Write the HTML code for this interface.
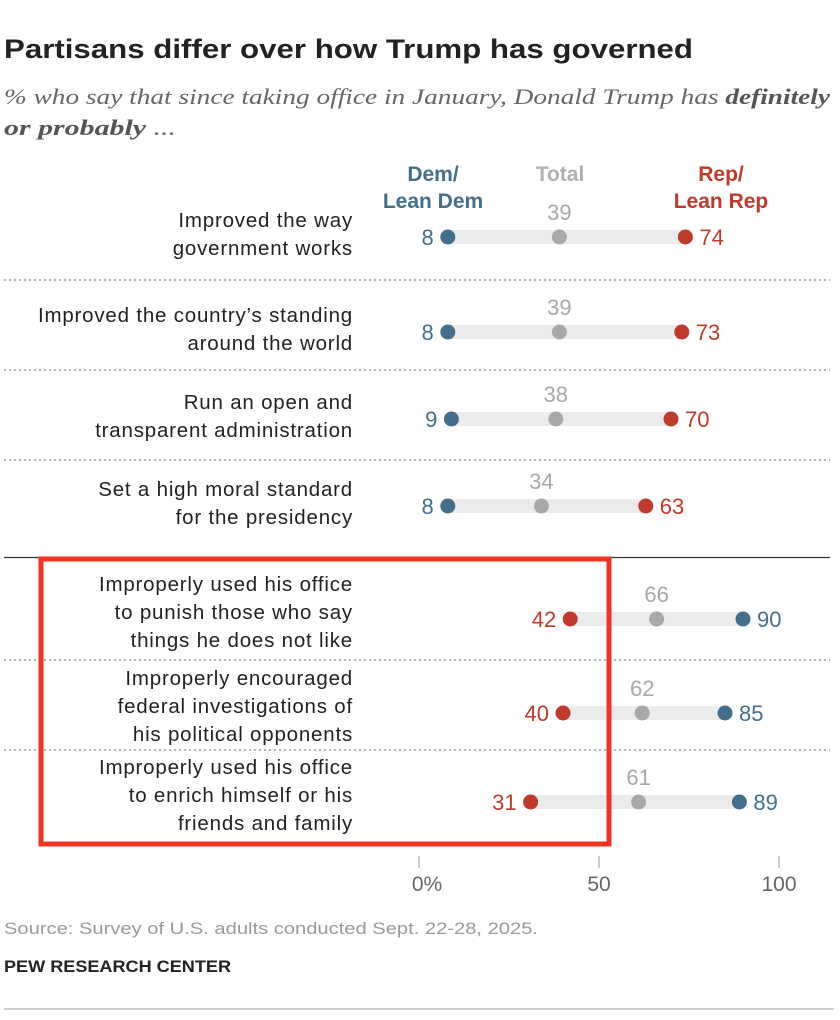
<!DOCTYPE html>
<html><head><meta charset="utf-8">
<style>
body{margin:0;background:#fff;width:840px;height:1020px;overflow:hidden;font-family:"Liberation Sans",sans-serif;}
svg{display:block}
</style></head>
<body>
<svg id="chart" width="840" height="1020" xmlns="http://www.w3.org/2000/svg" font-family="Liberation Sans, sans-serif">
<text x="4" y="58" font-size="27" font-weight="bold" fill="#222" textLength="689" lengthAdjust="spacingAndGlyphs">Partisans differ over how Trump has governed</text>
<text x="4" y="104" font-size="22" font-style="italic" fill="#666" font-family="Liberation Serif, serif" textLength="826" lengthAdjust="spacingAndGlyphs">% who say that since taking office in January, Donald Trump has <tspan font-weight="bold" fill="#555">definitely</tspan></text>
<text x="4" y="135" font-size="22" font-style="italic" fill="#666" font-family="Liberation Serif, serif" textLength="172" lengthAdjust="spacingAndGlyphs"><tspan font-weight="bold" fill="#555">or probably</tspan> ...</text>
<text x="433" y="181" font-size="21" font-weight="bold" fill="#436f8c" text-anchor="middle">Dem/<tspan x="433" dy="27">Lean Dem</tspan></text>
<text x="560" y="181" font-size="21" font-weight="bold" fill="#b0b0b0" text-anchor="middle">Total</text>
<text x="721" y="181" font-size="21" font-weight="bold" fill="#bf3a2b" text-anchor="middle">Rep/<tspan x="721" dy="27">Lean Rep</tspan></text>
<g id="rows"></g>
<line x1="4" x2="830" y1="557.5" y2="557.5" stroke="#333" stroke-width="1.2"/>
<rect x="41" y="559" width="568" height="285" fill="none" stroke="#f0341f" stroke-width="5"/>
<g id="axis"></g>
<text x="4" y="934" font-size="17" fill="#999" textLength="534" lengthAdjust="spacingAndGlyphs">Source: Survey of U.S. adults conducted Sept. 22-28, 2025.</text>
<text x="4" y="972" font-size="17" font-weight="bold" fill="#222" textLength="227" lengthAdjust="spacingAndGlyphs">PEW RESEARCH CENTER</text>
<line x1="4" x2="834" y1="1009" y2="1009" stroke="#999" stroke-width="1"/>
</svg>
<script>
const labels=[["Improved the way","government works"],["Improved the country’s standing","around the world"],["Run an open and","transparent administration"],["Set a high moral standard","for the presidency"],["Improperly used his office","to punish those who say","things he does not like"],["Improperly encouraged","federal investigations of","his political opponents"],["Improperly used his office","to enrich himself or his","friends and family"]];
const demVals=[8,8,9,8,90,85,89];
const totalVals=[39,39,38,34,66,62,61];
const repVals=[74,73,70,63,42,40,31];
const ticks=[0,50,100];
const tickLabels=["0%","50","100"];

const NS="http://www.w3.org/2000/svg";
const rowY=[237,332,419,506,619,713,802];
const sepY=[280,370,460,660,750];
const x=v=>419+v*3.6;
function mk(tag,attrs,parent,txt){const e=document.createElementNS(NS,tag);for(const k in attrs)e.setAttribute(k,attrs[k]);if(txt!==undefined)e.textContent=txt;parent.appendChild(e);return e;}
const rows=document.getElementById('rows');
const DEM="#436f8c",REP="#bf3a2b",TOT="#a8a8a8";
sepY.forEach(y=>{const l=mk('line',{x1:4,x2:830,y1:y,y2:y,stroke:'#888','stroke-width':1.3,'stroke-dasharray':'2,3'},rows);

});
labels.forEach((lab,i)=>{
 const y=rowY[i];
 const n=lab.length;
 const t=mk('text',{x:353,'font-size':20.5,fill:'#222','text-anchor':'end','letter-spacing':'0.8'},rows);
 
 
 lab.forEach((s,j)=>{mk('tspan',{x:353,y:(n===2?y-10:y-28)+j*28},t,s);});
 const vals=[demVals[i],totalVals[i],repVals[i]];
 const lo=Math.min(...vals),hi=Math.max(...vals);
 const bar=mk('rect',{x:x(lo),y:y-7,width:x(hi)-x(lo),height:14,fill:'#ebebeb'},rows);
 
 
 const series=[[demVals[i],DEM,'dem'],[repVals[i],REP,'rep']];
 series.forEach(([v,c,nm])=>{
  const d=mk('circle',{cx:x(v),cy:y,r:7.5,fill:c},rows);
  
  
  const left=v===lo;
  const lt=mk('text',{x:left?x(v)-14:x(v)+14,y:y+8,'font-size':22,fill:c,'text-anchor':left?'end':'start'},rows,String(v));
  
  
 });
 const td=mk('circle',{cx:x(totalVals[i]),cy:y,r:7.5,fill:TOT},rows);
 
 
 const tl=mk('text',{x:x(totalVals[i]),y:y-17,'font-size':22,fill:TOT,'text-anchor':'middle'},rows,String(totalVals[i]));
 
 
});
const axis=document.getElementById('axis');
ticks.forEach((t,i)=>{
 const l=mk('line',{x1:x(t),x2:x(t),y1:856,y2:868,stroke:'#999','stroke-width':1},axis);
 
 
 const tx=mk('text',{x:x(t)+(i===0?8:0),y:891,'font-size':21,fill:'#666','text-anchor':'middle'},axis,tickLabels[i]);
 
 
});
</script>
</body></html>
